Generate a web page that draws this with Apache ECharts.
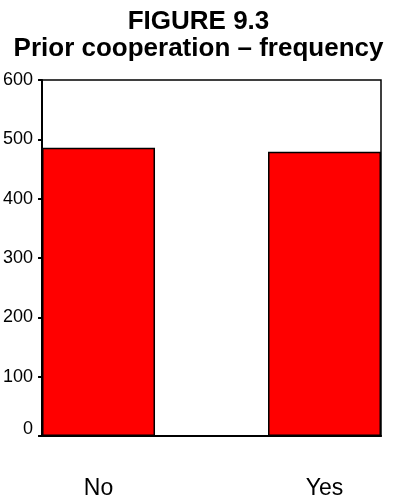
<!DOCTYPE html>
<html>
<head>
<meta charset="utf-8">
<script src="https://cdn.jsdelivr.net/npm/echarts@6/dist/echarts.min.js"></script>
<style>
  html, body { margin: 0; padding: 0; background: #fff; }
  #chart { width: 397px; height: 500px; }
</style>
</head>
<body>
<div id="chart"></div>
<script>
// categories - empty one in the middle makes the gap between bars
var categories = ['No', '', 'Yes'];
var frequency = [486, '-', 479];
var yTicks = [0, 100, 200, 300, 400, 500, 600];

var chart = echarts.init(document.getElementById('chart'));

var option = {
    animation: false,
    backgroundColor: '#fff',
    textStyle: { fontFamily: 'Liberation Sans, Arial, sans-serif' },
    title: {
        text: 'FIGURE 9.3\nPrior cooperation \u2013 frequency',
        left: 'center',
        top: 3,
        textStyle: {
            fontSize: 26,
            fontWeight: 'bold',
            color: '#000',
            lineHeight: 27,
            fontFamily: 'Liberation Sans, Arial, sans-serif'
        }
    },
    grid: {
        left: 41,
        right: 16,
        top: 80,
        bottom: 57,
        show: true,
        borderColor: '#000',
        borderWidth: 1.5,
        backgroundColor: 'transparent'
    },
    xAxis: {
        type: 'category',
        data: categories,
        axisLine: { lineStyle: { color: '#000', width: 2 } },
        axisTick: { show: false },
        axisLabel: { color: '#000', fontSize: 23, margin: 41 }
    },
    yAxis: {
        type: 'value',
        min: yTicks[0],
        max: yTicks[yTicks.length - 1],
        interval: 100,
        splitLine: { show: false },
        axisLine: { show: true, lineStyle: { color: '#000', width: 2 } },
        axisTick: { show: true, length: 4, lineStyle: { color: '#000', width: 2 } },
        axisLabel: {
            color: '#000',
            fontSize: 18,
            margin: 9,
            formatter: function (v) {
                // the 0 label sits a bit higher than its tick
                return v === 0 ? '{z|0}' : String(v);
            },
            rich: {
                z: { fontSize: 18, color: '#000', padding: [0, 0, 13, 0] }
            }
        }
    },
    series: [{
        type: 'bar',
        data: frequency,
        barWidth: '100%',
        barCategoryGap: 0,
        itemStyle: {
            color: '#ff0000',
            borderColor: '#000',
            borderWidth: 1.5
        }
    }]
};

chart.setOption(option);
</script>
</body>
</html>
